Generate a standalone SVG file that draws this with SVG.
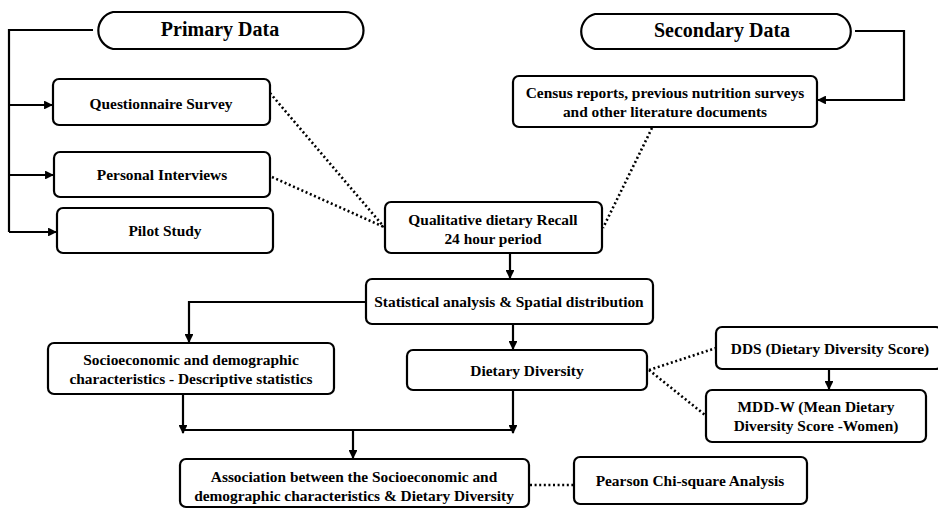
<svg xmlns="http://www.w3.org/2000/svg" width="938" height="509" viewBox="0 0 938 509">
<style>
.box{fill:#fff;stroke:#000;stroke-width:2.2}
.t{font-family:"Liberation Serif","Times New Roman",serif;font-weight:bold;font-size:15.4px;text-anchor:middle;fill:#000}
.big{font-size:20px}
.ln{fill:none;stroke:#000;stroke-width:2.2}
.dot{fill:none;stroke:#000;stroke-width:2.6;stroke-dasharray:2 2.6}
</style>
<defs>
<marker id="ah" viewBox="0 0 10 10" refX="9" refY="5" markerWidth="4" markerHeight="4" orient="auto" markerUnits="strokeWidth">
<path d="M0,0 L10,5 L0,10 Z" fill="#000"/>
</marker>
</defs>
<g id="connectors">
<path class="ln" d="M93,30 H9 V232"/>
<path class="ln" d="M9,105 H52" marker-end="url(#ah)"/>
<path class="ln" d="M9,175 H53" marker-end="url(#ah)"/>
<path class="ln" d="M9,232 H56" marker-end="url(#ah)"/>
<path class="ln" d="M855,31 H904 V100 H818" marker-end="url(#ah)"/>
<path class="dot" d="M270,93 L384,227"/>
<path class="dot" d="M272,177 L384,227"/>
<path class="dot" d="M652,128 L603,228"/>
<path class="ln" d="M510,253 V278" marker-end="url(#ah)"/>
<path class="ln" d="M366,302 H189 V342" marker-end="url(#ah)"/>
<path class="ln" d="M513,324 V349" marker-end="url(#ah)"/>
<path class="ln" d="M183,394 V433" marker-end="url(#ah)"/>
<path class="ln" d="M513,390 V433" marker-end="url(#ah)"/>
<path class="ln" d="M183,430 H513"/>
<path class="ln" d="M353,430 V458" marker-end="url(#ah)"/>
<path class="ln" d="M829,369 V389" marker-end="url(#ah)"/>
<path class="dot" d="M649,370 L716,348"/>
<path class="dot" d="M649,370 L705,415"/>
<path class="dot" d="M530,485 H574"/>
</g>
<g id="primary">
<path class="box" d="M113,12 H345 A18,18 0 0 1 345,49 H113 A19,19 0 0 1 113,12 Z"/>
<text class="t big" x="220" y="36">Primary Data</text>
</g>
<g id="secondary">
<path class="box" d="M595,14 H837 A18,18 0 0 1 837,49 H595 A18,18 0 0 1 595,14 Z"/>
<text class="t big" x="722" y="37">Secondary Data</text>
</g>
<g id="questionnaire">
<rect class="box" x="53" y="79" width="217" height="46" rx="6"/>
<text class="t" x="161" y="109">Questionnaire Survey</text>
</g>
<g id="interviews">
<rect class="box" x="54" y="152" width="216" height="45" rx="6"/>
<text class="t" x="162" y="180">Personal Interviews</text>
</g>
<g id="pilot">
<rect class="box" x="57" y="208" width="216" height="45" rx="6"/>
<text class="t" x="165" y="236">Pilot Study</text>
</g>
<g id="census">
<rect class="box" x="513" y="76" width="304" height="51" rx="6"/>
<text class="t" x="665" y="98">Census reports, previous nutrition surveys</text>
<text class="t" x="665" y="117">and other literature documents</text>
</g>
<g id="recall">
<rect class="box" x="385" y="202" width="217" height="51" rx="6"/>
<text class="t" x="493" y="225">Qualitative dietary Recall</text>
<text class="t" x="493" y="244">24 hour period</text>
</g>
<g id="statistical">
<rect class="box" x="366" y="279" width="287" height="45" rx="6"/>
<text class="t" x="509" y="307">Statistical analysis &amp; Spatial distribution</text>
</g>
<g id="socio">
<rect class="box" x="48" y="343" width="286" height="51" rx="6"/>
<text class="t" x="191" y="365">Socioeconomic and demographic</text>
<text class="t" x="191" y="384">characteristics - Descriptive statistics</text>
</g>
<g id="diversity">
<rect class="box" x="407" y="350" width="240" height="40" rx="6"/>
<text class="t" x="527" y="376">Dietary Diversity</text>
</g>
<g id="dds">
<rect class="box" x="716" y="327" width="226" height="42" rx="6"/>
<text class="t" x="830" y="354">DDS (Dietary Diversity Score)</text>
</g>
<g id="mddw">
<rect class="box" x="706" y="390" width="220" height="52" rx="6"/>
<text class="t" x="816" y="412">MDD-W (Mean Dietary</text>
<text class="t" x="816" y="431">Diversity Score -Women)</text>
</g>
<g id="association">
<rect class="box" x="180" y="459" width="349" height="48" rx="6"/>
<text class="t" x="354" y="482">Association between the Socioeconomic and</text>
<text class="t" x="354" y="501">demographic characteristics &amp; Dietary Diversity</text>
</g>
<g id="pearson">
<rect class="box" x="574" y="457" width="233" height="47" rx="6"/>
<text class="t" x="690" y="486">Pearson Chi-square Analysis</text>
</g>
</svg>
